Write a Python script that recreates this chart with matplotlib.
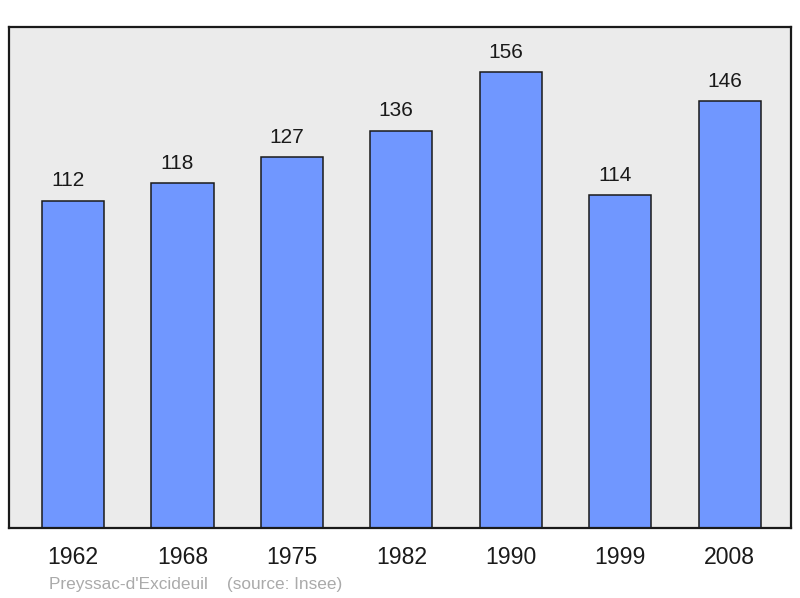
import matplotlib
matplotlib.use("Agg")
import matplotlib.pyplot as plt

years = ["1962", "1968", "1975", "1982", "1990", "1999", "2008"]
population = [112, 118, 127, 136, 156, 114, 146]
source_text = "Preyssac-d'Excideuil    (source: Insee)"

plt.rcParams['font.family'] = ['Liberation Sans', 'DejaVu Sans']

fig = plt.figure(figsize=(8.0, 5.98), dpi=100)
W, H = 800, 598
ax = fig.add_axes([9 / W, 1 - 528 / H, (791 - 9) / W, (528 - 27) / H])
ax.set_facecolor('#ebebeb')

x = list(range(len(years)))
ax.bar(x, population, width=0.567, color='#7097ff', edgecolor='#1a1a1a',
       linewidth=1.1, zorder=2)
for xi, v in zip(x, population):
    ax.annotate(str(v), (xi, v), xytext=(-3.8, 7.5), textcoords='offset points',
                ha='center', va='bottom', fontsize=15, color='#1a1a1a')

ax.set_xlim(-0.585, 6.56)
ax.set_ylim(0, 171.5)
ax.set_xticks(x)
ax.set_xticklabels(years, fontsize=16.6, color='#1a1a1a')
ax.tick_params(axis='x', length=0, pad=13)
ax.set_yticks([])
for s in ax.spines.values():
    s.set_linewidth(1.6)
    s.set_color('#1a1a1a')

fig.text(49 / W, 1 - 584 / H, source_text, fontsize=12.4, color='#aaaaaa',
         ha='left', va='center')

fig.savefig('out.png', dpi=100)
